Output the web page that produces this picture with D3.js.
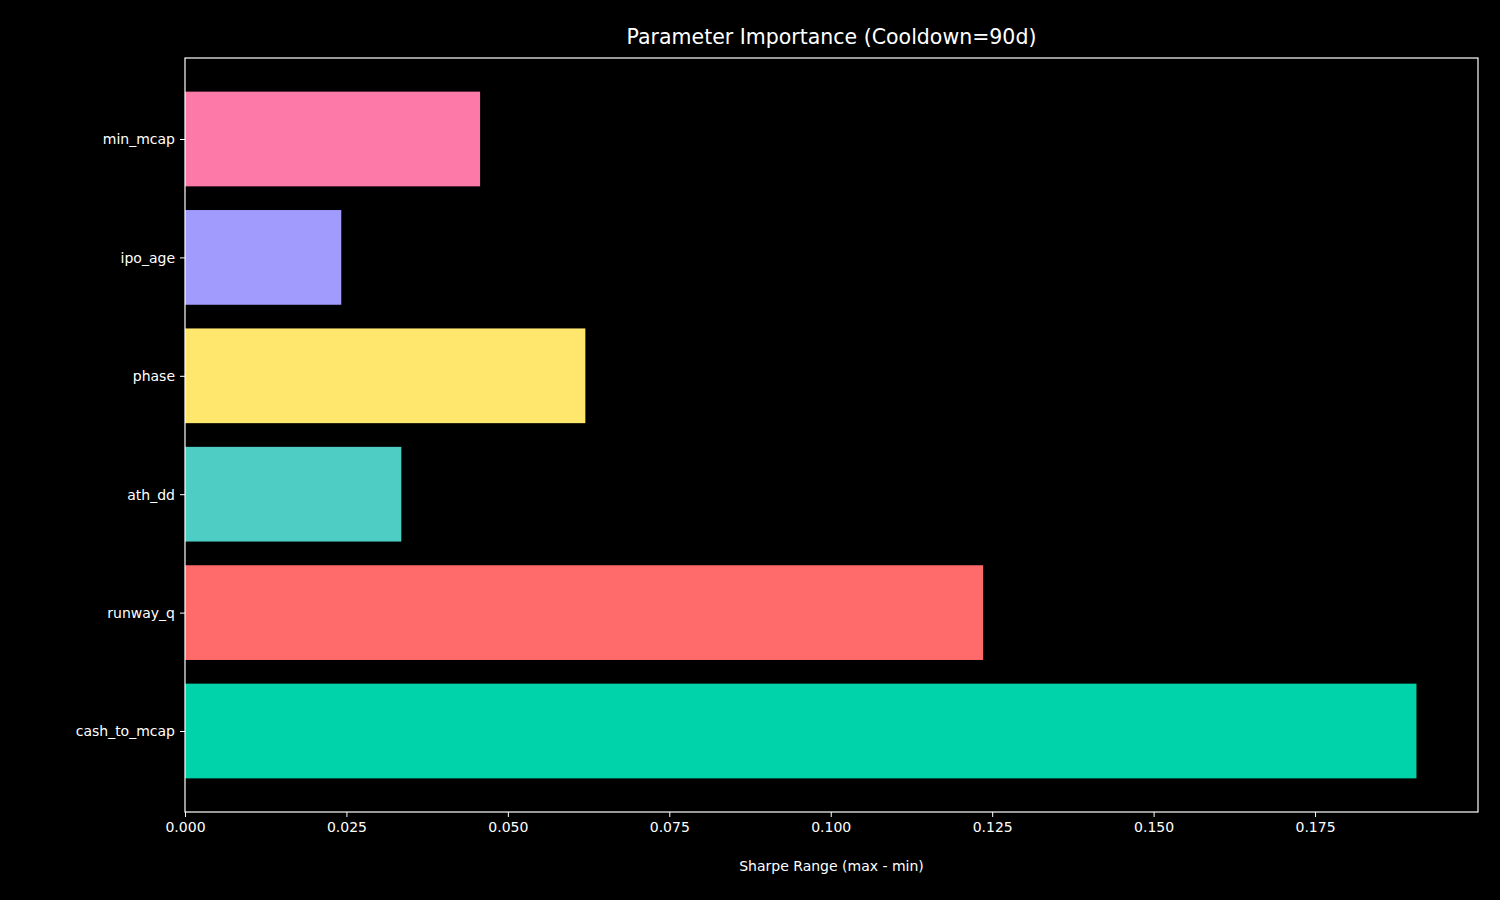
<!DOCTYPE html>
<html><head><meta charset="utf-8">
<script src="https://cdn.jsdelivr.net/npm/d3@7"></script>
<style>body{margin:0;background:#000}svg{display:block}text{font-family:"DejaVu Sans",sans-serif;fill:#fff}</style>
</head><body><svg id="c" width="1500" height="900"></svg>
<script>
const categories = ["cash_to_mcap","runway_q","ath_dd","phase","ipo_age","min_mcap"];
const values = [0.1907,0.1236,0.0335,0.0620,0.0242,0.0457];
const colors = ["#00D2AA","#FF6B6B","#4ECDC4","#FFE66D","#A29BFE","#FD79A8"];
const xTicks = [0,0.025,0.05,0.075,0.1,0.125,0.15,0.175];

const svg = d3.select("#c");
const L=185,R=1478,T=58,B=812;
const x = d3.scaleLinear().domain([0, d3.max(values)*1.05]).range([L,R]);
const y = d3.scaleLinear().domain([0,5]).range([731,139]);
const step = y(0)-y(1), bh = step*0.8;

svg.selectAll("rect.bar").data(values).join("rect")
  .attr("x", x(0)).attr("y",(d,i)=>y(i)-bh/2)
  .attr("width", d=>x(d)-x(0)).attr("height", bh)
  .attr("fill",(d,i)=>colors[i]);

svg.append("rect").attr("x",L).attr("y",T).attr("width",R-L).attr("height",B-T)
  .attr("fill","none").attr("stroke","#fff").attr("stroke-width",1.2);

const xa = svg.append("g").attr("transform",`translate(0,${B})`)
  .call(d3.axisBottom(x).tickValues(xTicks).tickFormat(d3.format(".3f")).tickSize(5).tickPadding(5));
const ya = svg.append("g").attr("transform",`translate(${L},0)`)
  .call(d3.axisLeft(y).tickValues(d3.range(categories.length)).tickFormat(i=>categories[i]).tickSize(5).tickPadding(5));
[xa,ya].forEach(a=>{a.select(".domain").remove();a.selectAll("line").attr("stroke","#fff");
  a.selectAll("text").attr("fill","#fff").style("font-size","14px");});
ya.selectAll("text").attr("dy","0.35em");

svg.append("text").attr("x",(L+R)/2).attr("y",44).attr("text-anchor","middle")
  .style("font-size","20.5px").text("Parameter Importance (Cooldown=90d)");
svg.append("text").attr("x",(L+R)/2).attr("y",871).attr("text-anchor","middle")
  .style("font-size","14px").text("Sharpe Range (max - min)");
</script></body></html>
